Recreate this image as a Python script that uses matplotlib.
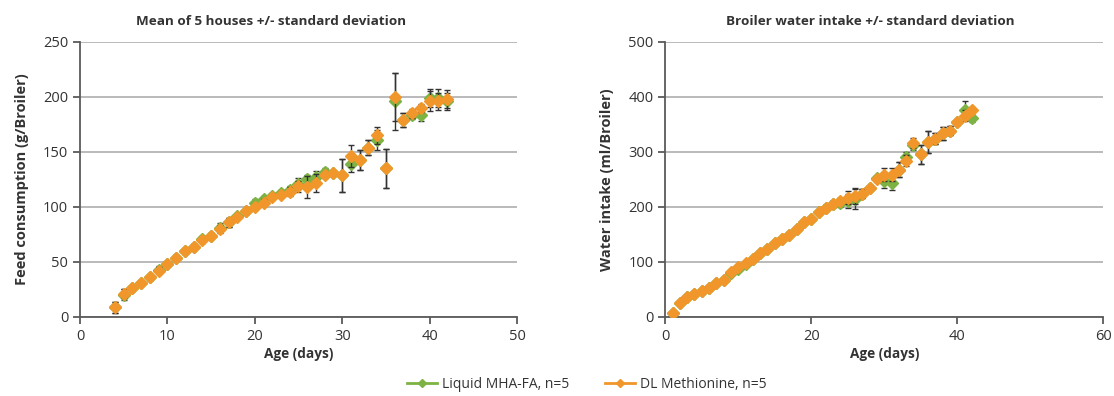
import numpy as np
import matplotlib
matplotlib.use("Agg")
import matplotlib.pyplot as plt
from matplotlib.lines import Line2D

plt.rcParams['font.family'] = ['Open Sans', 'DejaVu Sans']

# feed consumption, days 4..42
feed_days = list(range(4, 43))
feed_dl = [9, 21, 26, 31, 36, 42, 48, 54, 60, 64, 70, 74, 80, 86, 91, 96, 100, 104, 109, 111,
           114, 119, 118, 122, 129, 131, 129, 146, 143, 154, 165, 135, 200, 179, 185, 190, 196, 196, 198]
feed_dl_sd = [5, 4, 2, 2, 2, 3, 2, 2, 2, 2, 3, 2, 4, 4, 2, 2, 3, 3, 3, 2,
              4, 5, 10, 8, 3, 2, 15, 10, 9, 7, 8, 18, 22, 6, 4, 4, 9, 8, 8]
feed_mha = [9, 20, 26, 31, 36, 43, 48, 54, 60, 64, 71, 74, 81, 86, 92, 96, 104, 107, 110, 113,
            115, 121, 125, 127, 132, 131, 129, 139, 143, 154, 161, 135, 196, 179, 184, 184, 199, 199, 196]
feed_mha_sd = [5, 5, 2, 2, 2, 3, 2, 2, 2, 2, 3, 2, 4, 4, 2, 2, 3, 3, 3, 2,
               4, 5, 4, 6, 3, 2, 15, 7, 9, 7, 9, 18, 26, 6, 4, 6, 8, 8, 8]

# water intake, days 1..42
water_days = list(range(1, 43))
water_dl = [7, 26, 36, 42, 48, 53, 62, 68, 82, 90, 99, 106, 116, 124, 134, 142, 149, 160, 172, 179,
            191, 199, 205, 211, 217, 220, 224, 235, 250, 259, 259, 268, 284, 316, 296, 318, 324, 334,
            339, 354, 366, 376]
water_dl_sd = [2, 2, 2, 2, 2, 2, 2, 2, 3, 3, 3, 3, 4, 3, 4, 3, 3, 3, 3, 3,
               3, 5, 5, 6, 12, 15, 8, 4, 5, 11, 11, 14, 10, 9, 17, 20, 10, 12,
               8, 5, 10, 6]
water_mha = [7, 26, 36, 42, 48, 53, 62, 68, 80, 88, 97, 106, 116, 124, 134, 142, 149, 160, 172, 179,
             191, 199, 205, 208, 211, 214, 224, 235, 252, 248, 244, 268, 290, 312, 296, 318, 324, 334,
             339, 354, 376, 361]
water_mha_sd = [2, 2, 2, 2, 2, 2, 2, 2, 3, 3, 3, 3, 4, 3, 4, 3, 3, 3, 3, 3,
                3, 5, 5, 8, 12, 18, 8, 4, 5, 13, 14, 14, 10, 9, 17, 20, 10, 12,
                8, 5, 16, 6]

green = '#7cb342'
orange = '#f0962a'
errc = '#333333'
grid = '#b4b4b4'
spine = '#5a5a5a'
txt = '#333333'

fig = plt.figure(figsize=(11.14, 3.96), dpi=100)
ax1 = fig.add_axes([0.0718, 0.1995, 0.3923, 0.6945])
ax2 = fig.add_axes([0.5972, 0.1995, 0.3932, 0.6945])


def panel(ax, days, mha, mha_sd, dl, dl_sd, xmax, xstep, ymax, ystep, title, title_x, ylabel):
	ax.errorbar(days, mha, yerr=mha_sd, fmt='D', color=green, ms=6.3, mec=green,
				ecolor=errc, elinewidth=1, capsize=2.5, capthick=1, zorder=3)
	ax.errorbar(days, dl, yerr=dl_sd, fmt='D', color=orange, ms=6.3, mec=orange,
				ecolor=errc, elinewidth=1, capsize=2.5, capthick=1, zorder=4)
	ax.set_xlim(0, xmax)
	ax.set_ylim(0, ymax)
	ax.set_xticks(np.arange(0, xmax + 1, xstep))
	ax.set_yticks(np.arange(0, ymax + 1, ystep))
	ax.yaxis.grid(True, color=grid, lw=1.3)
	ax.set_axisbelow(True)
	for s in ['top', 'right']:
		ax.spines[s].set_visible(False)
	for s in ['left', 'bottom']:
		ax.spines[s].set_color(spine)
		ax.spines[s].set_linewidth(1.3)
	ax.tick_params(colors=spine, labelcolor=txt, labelsize=10.5, length=5, width=1.3)
	ax.set_title(title, fontsize=9.7, fontweight='bold', color=txt, pad=12, x=title_x)
	ax.set_xlabel('Age (days)', fontsize=9.8, fontweight='bold', color=txt, labelpad=2)
	ax.set_ylabel(ylabel, fontsize=10.5, fontweight='bold', color=txt, labelpad=10)


panel(ax1, feed_days, feed_mha, feed_mha_sd, feed_dl, feed_dl_sd, 50, 10, 250, 50,
	  'Mean of 5 houses +/- standard deviation', 0.437, 'Feed consumption (g/Broiler)')
panel(ax2, water_days, water_mha, water_mha_sd, water_dl, water_dl_sd, 60, 20, 500, 100,
	  'Broiler water intake +/- standard deviation', 0.467, 'Water intake (ml/Broiler)')

handles = [Line2D([0], [0], color=green, marker='D', ms=4, lw=2),
		   Line2D([0], [0], color=orange, marker='D', ms=4, lw=2)]
fig.legend(handles, ['Liquid MHA-FA, n=5', 'DL Methionine, n=5'], loc='center',
		   bbox_to_anchor=(0.5265, 0.03), ncol=2, frameon=False, fontsize=10,
		   handlelength=2.2, handletextpad=0.3, columnspacing=2.6, labelcolor=txt)

fig.savefig('out.png', dpi=100)
